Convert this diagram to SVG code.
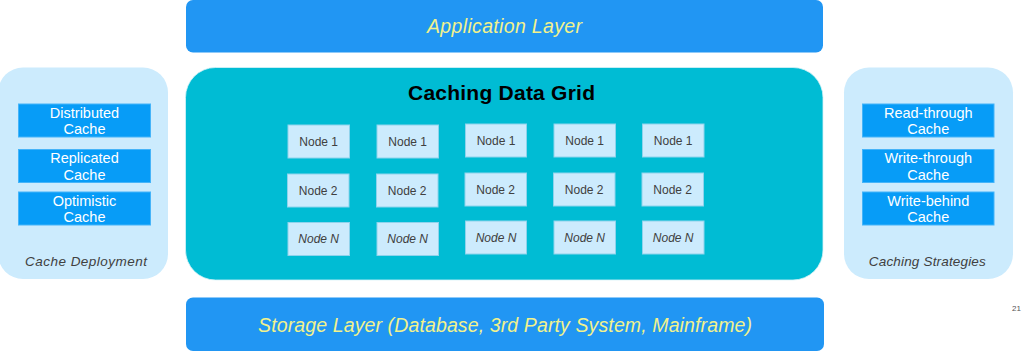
<svg xmlns="http://www.w3.org/2000/svg" width="1024" height="351" viewBox="0 0 1024 351">
<style>
.layer{fill:#2196F3;}
.layertxt{font-family:"Liberation Sans",Arial,sans-serif;font-style:italic;font-size:19.5px;fill:#F2F28C;text-anchor:middle;}
.panel{fill:#CCEBFD;}
.ibox{fill:#079CF7;stroke:#45B4F9;stroke-width:1;}
.itxt{font-family:"Liberation Sans",Arial,sans-serif;font-size:14.5px;fill:#FFFFFF;text-anchor:middle;}
.ptxt{font-family:"Liberation Sans",Arial,sans-serif;font-style:italic;font-size:13.5px;fill:#404040;text-anchor:middle;}
.node{fill:#CCEBFD;stroke:#8FD3EC;stroke-width:1;}
.ntxt{font-family:"Liberation Sans",Arial,sans-serif;font-size:12px;fill:#404040;text-anchor:middle;}
.ni{font-style:italic;}
</style>
<rect width="1024" height="351" fill="#FFFFFF"/>
<g id="application-layer">
<rect class="layer" x="186" y="0" width="637" height="52.5" rx="7"/>
<text class="layertxt" x="504.5" y="33" textLength="155">Application Layer</text>
</g>
<g id="caching-data-grid">
<rect x="185.5" y="67.5" width="637.5" height="212.5" rx="30" fill="#00BCD4" stroke="#D8F3F8" stroke-width="0.8"/>
<text x="501.5" y="99.5" font-family="Liberation Sans,Arial,sans-serif" font-weight="bold" font-size="21" fill="#000000" text-anchor="middle" textLength="187">Caching Data Grid</text>
</g>
<g id="nodes">
<g id="n1-1"><rect class="node" x="288" y="125" width="61.5" height="33"/><text class="ntxt" x="318.7" y="145.5">Node 1</text></g>
<g id="n2-1"><rect class="node" x="377" y="125" width="61.5" height="33"/><text class="ntxt" x="407.7" y="145.5">Node 1</text></g>
<g id="n3-1"><rect class="node" x="465.5" y="124" width="61" height="33"/><text class="ntxt" x="496" y="144.5">Node 1</text></g>
<g id="n4-1"><rect class="node" x="554" y="124" width="61.5" height="33"/><text class="ntxt" x="584.7" y="144.5">Node 1</text></g>
<g id="n5-1"><rect class="node" x="642.5" y="124" width="61.5" height="33"/><text class="ntxt" x="673.2" y="144.5">Node 1</text></g>
<g id="n1-2"><rect class="node" x="287.5" y="174" width="61.5" height="33"/><text class="ntxt" x="318.2" y="194.5">Node 2</text></g>
<g id="n2-2"><rect class="node" x="376.5" y="174" width="61.5" height="33"/><text class="ntxt" x="407.2" y="194.5">Node 2</text></g>
<g id="n3-2"><rect class="node" x="465" y="173" width="61.5" height="33"/><text class="ntxt" x="495.7" y="193.5">Node 2</text></g>
<g id="n4-2"><rect class="node" x="553.5" y="173" width="61.5" height="33"/><text class="ntxt" x="584.2" y="193.5">Node 2</text></g>
<g id="n5-2"><rect class="node" x="642" y="173" width="61.5" height="33"/><text class="ntxt" x="672.7" y="193.5">Node 2</text></g>
<g id="n1-n"><rect class="node" x="288" y="222.5" width="61.5" height="33"/><text class="ntxt ni" x="318.7" y="243">Node N</text></g>
<g id="n2-n"><rect class="node" x="377" y="222.5" width="61.5" height="33"/><text class="ntxt ni" x="407.7" y="243">Node N</text></g>
<g id="n3-n"><rect class="node" x="465.5" y="221" width="61" height="33"/><text class="ntxt ni" x="496" y="241.5">Node N</text></g>
<g id="n4-n"><rect class="node" x="554" y="221" width="61.5" height="33"/><text class="ntxt ni" x="584.7" y="241.5">Node N</text></g>
<g id="n5-n"><rect class="node" x="642.5" y="221" width="61.5" height="33"/><text class="ntxt ni" x="673.2" y="241.5">Node N</text></g>
</g>
<g id="cache-deployment">
<rect class="panel" x="-2" y="67.5" width="170" height="211.5" rx="25"/>
<rect class="ibox" x="18.5" y="104" width="132" height="33"/>
<text class="itxt" x="84.5" y="117.5">Distributed</text>
<text class="itxt" x="84.5" y="134">Cache</text>
<rect class="ibox" x="18.5" y="149.5" width="132" height="33"/>
<text class="itxt" x="84.5" y="163">Replicated</text>
<text class="itxt" x="84.5" y="179.5">Cache</text>
<rect class="ibox" x="18.5" y="192" width="132" height="33"/>
<text class="itxt" x="84.5" y="205.5">Optimistic</text>
<text class="itxt" x="84.5" y="222">Cache</text>
<text class="ptxt" x="86" y="266" textLength="122">Cache Deployment</text>
</g>
<g id="caching-strategies">
<rect class="panel" x="844" y="67.5" width="169" height="211.5" rx="25"/>
<rect class="ibox" x="862.5" y="104" width="131.5" height="33"/>
<text class="itxt" x="928.3" y="117.5">Read-through</text>
<text class="itxt" x="928.3" y="134">Cache</text>
<rect class="ibox" x="862.5" y="149.5" width="131.5" height="33"/>
<text class="itxt" x="928.3" y="163">Write-through</text>
<text class="itxt" x="928.3" y="179.5">Cache</text>
<rect class="ibox" x="862.5" y="192" width="131.5" height="33"/>
<text class="itxt" x="928.3" y="205.5">Write-behind</text>
<text class="itxt" x="928.3" y="222">Cache</text>
<text class="ptxt" x="927.3" y="266" textLength="117">Caching Strategies</text>
</g>
<g id="storage-layer">
<rect class="layer" x="186" y="297.5" width="638" height="53.5" rx="7"/>
<text class="layertxt" x="505" y="331.5" textLength="494">Storage Layer (Database, 3rd Party System, Mainframe)</text>
</g>
<g id="connectors"></g>
<text x="1012" y="311" font-family="Liberation Sans,Arial,sans-serif" font-size="8" fill="#555555">21</text>
</svg>
